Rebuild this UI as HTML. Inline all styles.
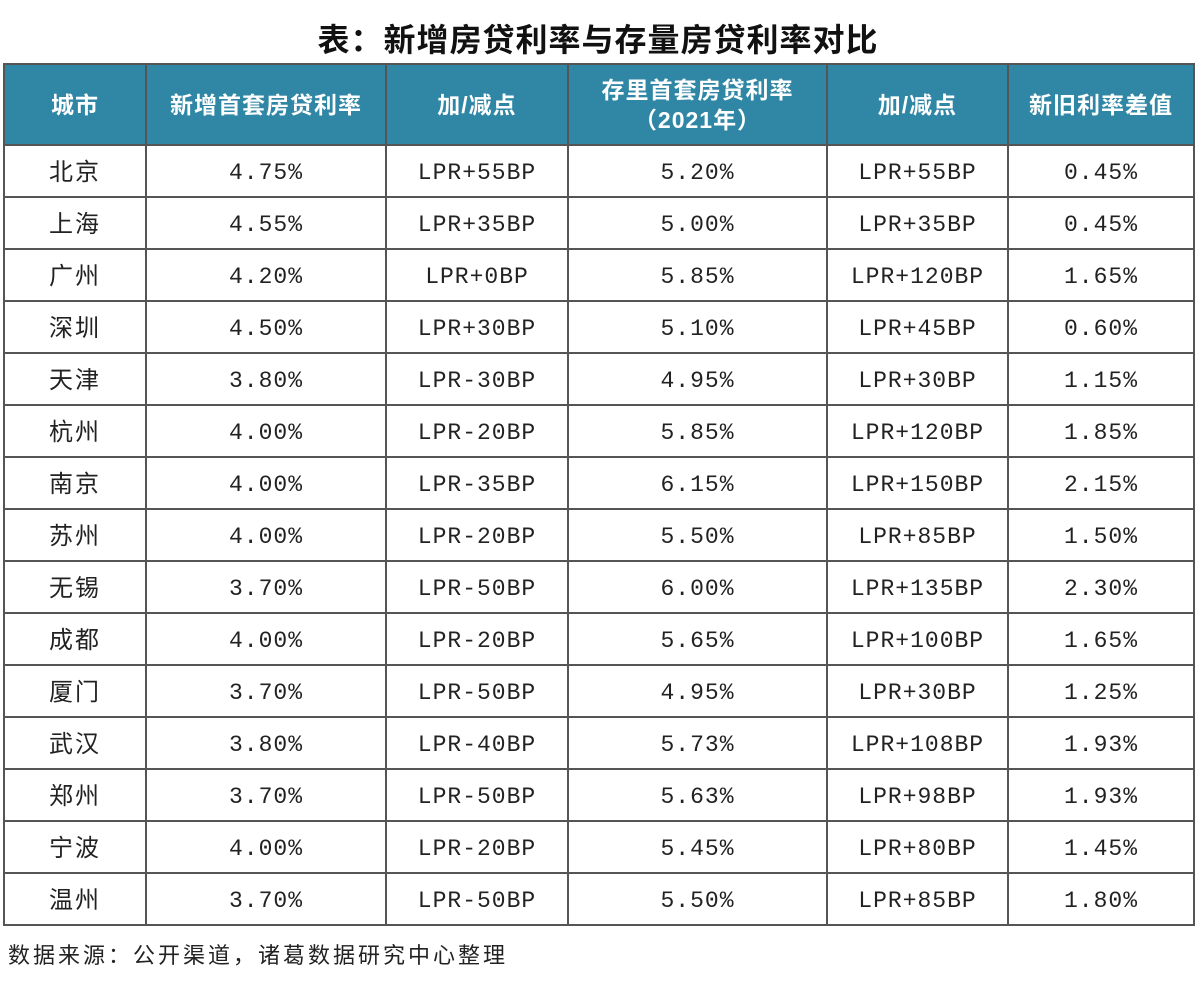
<!DOCTYPE html>
<html><head><meta charset="utf-8"><style>
body{margin:0;width:1196px;height:986px;background:#fff;font-family:"Liberation Sans","Noto Sans CJK SC",sans-serif;position:relative;overflow:hidden}
.title{position:absolute;top:15px;left:0;width:1196px;text-align:center;font-size:32px;font-weight:bold;color:#111;letter-spacing:1px}
table{position:absolute;left:3px;top:63px;border-collapse:collapse;table-layout:fixed}
td,th{border:2px solid #555;text-align:center;padding:0;color:#222;overflow:hidden}
th{background:#2f87a5;color:#fff;font-size:23px;font-weight:bold;height:79px;line-height:30px;letter-spacing:1px}
td{height:46px;padding-top:4px;line-height:46px;font-size:23px;letter-spacing:1px;font-family:"Liberation Mono","Noto Sans CJK SC",monospace}
td.c{font-family:"Liberation Sans","Noto Sans CJK SC",sans-serif;letter-spacing:2px;font-size:24px}
.src{position:absolute;left:8px;top:938px;font-size:22px;color:#222;letter-spacing:3px}
</style></head><body>
<div class="title">表：新增房贷利率与存量房贷利率对比</div>
<table>
<colgroup><col style="width:142px"><col style="width:240px"><col style="width:182px"><col style="width:259px"><col style="width:181px"><col style="width:186px"></colgroup>
<tr><th>城市</th><th>新增首套房贷利率</th><th>加/减点</th><th>存里首套房贷利率<br>（2021年）</th><th>加/减点</th><th>新旧利率差值</th></tr>
<tr><td class="c">北京</td><td>4.75%</td><td>LPR+55BP</td><td>5.20%</td><td>LPR+55BP</td><td>0.45%</td></tr>
<tr><td class="c">上海</td><td>4.55%</td><td>LPR+35BP</td><td>5.00%</td><td>LPR+35BP</td><td>0.45%</td></tr>
<tr><td class="c">广州</td><td>4.20%</td><td>LPR+0BP</td><td>5.85%</td><td>LPR+120BP</td><td>1.65%</td></tr>
<tr><td class="c">深圳</td><td>4.50%</td><td>LPR+30BP</td><td>5.10%</td><td>LPR+45BP</td><td>0.60%</td></tr>
<tr><td class="c">天津</td><td>3.80%</td><td>LPR-30BP</td><td>4.95%</td><td>LPR+30BP</td><td>1.15%</td></tr>
<tr><td class="c">杭州</td><td>4.00%</td><td>LPR-20BP</td><td>5.85%</td><td>LPR+120BP</td><td>1.85%</td></tr>
<tr><td class="c">南京</td><td>4.00%</td><td>LPR-35BP</td><td>6.15%</td><td>LPR+150BP</td><td>2.15%</td></tr>
<tr><td class="c">苏州</td><td>4.00%</td><td>LPR-20BP</td><td>5.50%</td><td>LPR+85BP</td><td>1.50%</td></tr>
<tr><td class="c">无锡</td><td>3.70%</td><td>LPR-50BP</td><td>6.00%</td><td>LPR+135BP</td><td>2.30%</td></tr>
<tr><td class="c">成都</td><td>4.00%</td><td>LPR-20BP</td><td>5.65%</td><td>LPR+100BP</td><td>1.65%</td></tr>
<tr><td class="c">厦门</td><td>3.70%</td><td>LPR-50BP</td><td>4.95%</td><td>LPR+30BP</td><td>1.25%</td></tr>
<tr><td class="c">武汉</td><td>3.80%</td><td>LPR-40BP</td><td>5.73%</td><td>LPR+108BP</td><td>1.93%</td></tr>
<tr><td class="c">郑州</td><td>3.70%</td><td>LPR-50BP</td><td>5.63%</td><td>LPR+98BP</td><td>1.93%</td></tr>
<tr><td class="c">宁波</td><td>4.00%</td><td>LPR-20BP</td><td>5.45%</td><td>LPR+80BP</td><td>1.45%</td></tr>
<tr><td class="c">温州</td><td>3.70%</td><td>LPR-50BP</td><td>5.50%</td><td>LPR+85BP</td><td>1.80%</td></tr>
</table>
<div class="src">数据来源：公开渠道，诸葛数据研究中心整理</div>
</body></html>
